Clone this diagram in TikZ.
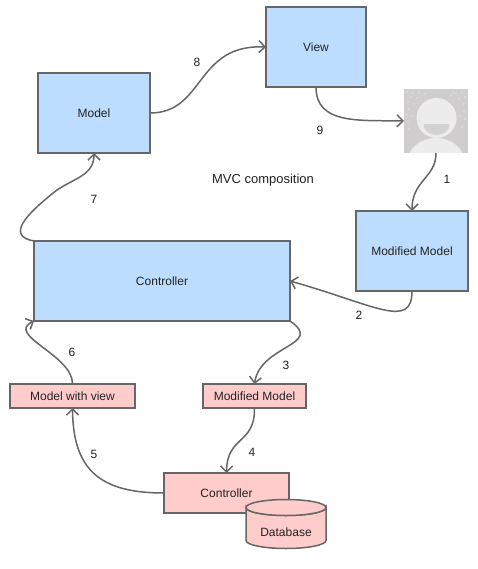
\documentclass[tikz,border=0pt]{standalone}
\usepackage{fontspec}
\setmainfont{Liberation Sans}
\usetikzlibrary{arrows.meta}
\definecolor{linegray}{HTML}{666666}
\definecolor{bluefill}{HTML}{BDDDFF}
\definecolor{pinkfill}{HTML}{FFCCCC}
\definecolor{txtc}{HTML}{222222}
\definecolor{avbg}{HTML}{CFCDCE}
\definecolor{avfg}{HTML}{ECECEC}
\tikzset{
 x=1pt,y=-1pt,
 box/.style={draw=linegray,line width=1.5pt,anchor=north west,inner sep=0pt,outer sep=0pt,font=\fontsize{12}{14}\selectfont,text=txtc},
 bluebox/.style={box,fill=bluefill},
 pinkbox/.style={box,fill=pinkfill},
 conn/.style={draw=linegray,line width=1.5pt,-{Straight Barb[length=6pt,width=12pt,line width=1.5pt]}},
 lbl/.style={font=\fontsize{12}{14}\selectfont,text=txtc,inner sep=0pt},
}
\begin{document}
\begin{tikzpicture}
\useasboundingbox (0,0) rectangle (478,569);
\node[bluebox,minimum width=112pt,minimum height=80pt] (model) at (38,73) {Model};
\node[bluebox,minimum width=100pt,minimum height=80pt] (view) at (266,7) {View};
\node[bluebox,minimum width=112pt,minimum height=80pt] (modmodel) at (356,211) {Modified Model};
\node[bluebox,minimum width=256pt,minimum height=80pt] (ctrl) at (34,241) {Controller};
\node[pinkbox,minimum width=125pt,minimum height=24pt] (mwv) at (10,384) {Model with view};
\node[pinkbox,minimum width=103pt,minimum height=24pt] (modpink) at (203,384) {Modified Model};
\node[pinkbox,minimum width=125pt,minimum height=40pt] (ctrl2) at (164,473) {Controller};
% database
\draw[draw=linegray,line width=1.5pt,fill=pinkfill] (246,507.5) -- (246,540.5) arc[x radius=40,y radius=8,start angle=180,end angle=0] -- (326,507.5) arc[x radius=40,y radius=8,start angle=0,end angle=180] -- cycle;
\draw[draw=linegray,line width=1.5pt,fill=pinkfill] (286,507.5) ellipse[x radius=40,y radius=8];
\node[lbl] (db) at (286,532) {Database};
% user picture
\node[fill=avbg,minimum width=64pt,minimum height=64pt,inner sep=0pt,outer sep=0pt,anchor=north west] (user) at (404,89) {};
\begin{scope}
\clip (404,89) rectangle (468,153);
\foreach \dx/\dy in {3/3,9/4,15/3,21/5,7/8,13/9,4/13,10/15,5/20,2/26,8/27,4/33,52/4,58/3,47/6,61/8,55/10,59/15,49/3,60/22,56/27,61/30,5/40,58/38}
  \fill[white!85!avbg] (404+\dx,89+\dy) circle[radius=0.6];
\fill[avfg] (436,163) ellipse[x radius=29,y radius=25];
\fill[avfg] (436.5,118) circle[radius=20];
\begin{scope}
\clip (424,125) rectangle (449,136);
\fill[avbg!85!avfg] (436.5,125) ellipse[x radius=13,y radius=10];
\end{scope}
\end{scope}
% connectors
\draw[conn] (model.east) .. controls (205,113) and (195,44) .. (view.west);
\draw[conn] (view.south) .. controls (316,125) and (360,120) .. (user.west);
\draw[conn] (user.south) .. controls (436,178) and (412,180) .. (modmodel.north);
\draw[conn] (modmodel.south) .. controls (412,330) and (375,305) .. (ctrl.east);
\draw[conn] (ctrl.south east) .. controls (325,345) and (260,345) .. (modpink.north);
\draw[conn] (modpink.south) .. controls (255,445) and (227,435) .. (ctrl2.north);
\draw[conn] (ctrl2.west) .. controls (100,493) and (73,470) .. (mwv.south);
\draw[conn] (mwv.north) .. controls (73,355) and (5,335) .. (ctrl.south west);
\draw[conn] (ctrl.north west) .. controls (6,236) and (25,215) .. (57,190) .. controls (75,178) and (94,175) .. (model.south);
% labels
\node[lbl] (n8) at (197,62) {8};
\node[lbl] (n9) at (320,130) {9};
\node[lbl] (n1) at (447,179) {1};
\node[lbl] (n2) at (359,315) {2};
\node[lbl] (n3) at (286,365) {3};
\node[lbl] (n4) at (252,452) {4};
\node[lbl] (n5) at (94,454) {5};
\node[lbl] (n6) at (72,352) {6};
\node[lbl] (n7) at (94,199) {7};
\node[lbl,font=\fontsize{13}{15}\selectfont] (title) at (263,180) {MVC composition};
\end{tikzpicture}
\end{document}
